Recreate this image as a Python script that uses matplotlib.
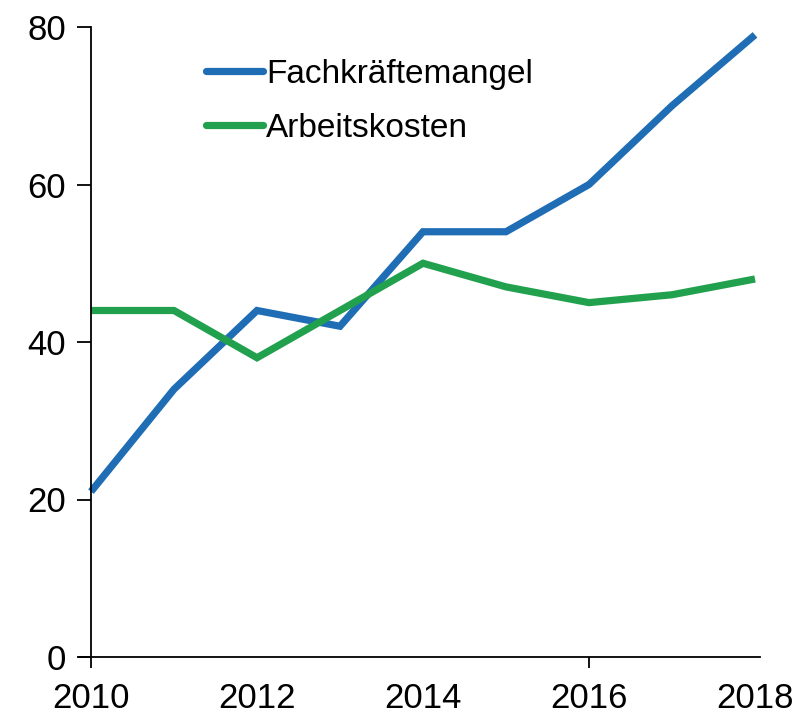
import matplotlib
matplotlib.use("Agg")
import matplotlib.pyplot as plt

years = [2010, 2011, 2012, 2013, 2014, 2015, 2016, 2017, 2018]
fachkraefte = [21, 34, 44, 42, 54, 54, 60, 70, 79]
arbeitskosten = [44, 44, 38, 44, 50, 47, 45, 46, 48]
xlabels = ["2010", "2012", "2014", "2016", "2018"]
yticks = [0, 20, 40, 60, 80]

plt.rcParams['font.family'] = ['Liberation Sans', 'DejaVu Sans']

fig = plt.figure(figsize=(8.04, 7.21), dpi=100)
ax = fig.add_axes([91/804, 1-657/721, (755-91)/804, (657-27)/721])

ax.plot(years, fachkraefte, color='#1f6db4', lw=5.2, label='Fachkräftemangel',
        clip_on=False, solid_joinstyle='miter', solid_capstyle='butt')
ax.plot(years, arbeitskosten, color='#21a14d', lw=5.2, label='Arbeitskosten',
        clip_on=False, solid_joinstyle='miter', solid_capstyle='butt')

ax.set_xlim(2010, 2018)
ax.set_ylim(0, 80)

for s in ['top', 'right']:
    ax.spines[s].set_visible(False)
ax.spines['left'].set_linewidth(1.3)
ax.spines['bottom'].set_linewidth(1.3)
ax.spines['bottom'].set_bounds(2010 - 12/83, 2018 + 5/83)

ax.set_yticks(yticks)
ax.set_yticklabels([str(v) for v in yticks], fontsize=25)
ax.tick_params(axis='y', direction='out', length=10, width=1.3, pad=8)

ax.xaxis.remove_overlapping_locs = False
ax.set_xticks([2010, 2016])
ax.set_xticklabels(['', ''])
ax.tick_params(axis='x', which='major', direction='out', length=8, width=1.3)
ax.set_xticks([int(l) for l in xlabels], minor=True)
ax.set_xticklabels(xlabels, minor=True, fontsize=25)
ax.tick_params(axis='x', which='minor', length=0, pad=18)

leg = ax.legend(loc='upper left', bbox_to_anchor=((206-91)/664, 1 - (59-27)/630),
                frameon=False, fontsize=24, handlelength=1.7, handletextpad=0.1,
                labelspacing=0.68, borderaxespad=0, borderpad=0)
for line in leg.get_lines():
    line.set_solid_capstyle('round')

fig.savefig('out.png', dpi=100)
